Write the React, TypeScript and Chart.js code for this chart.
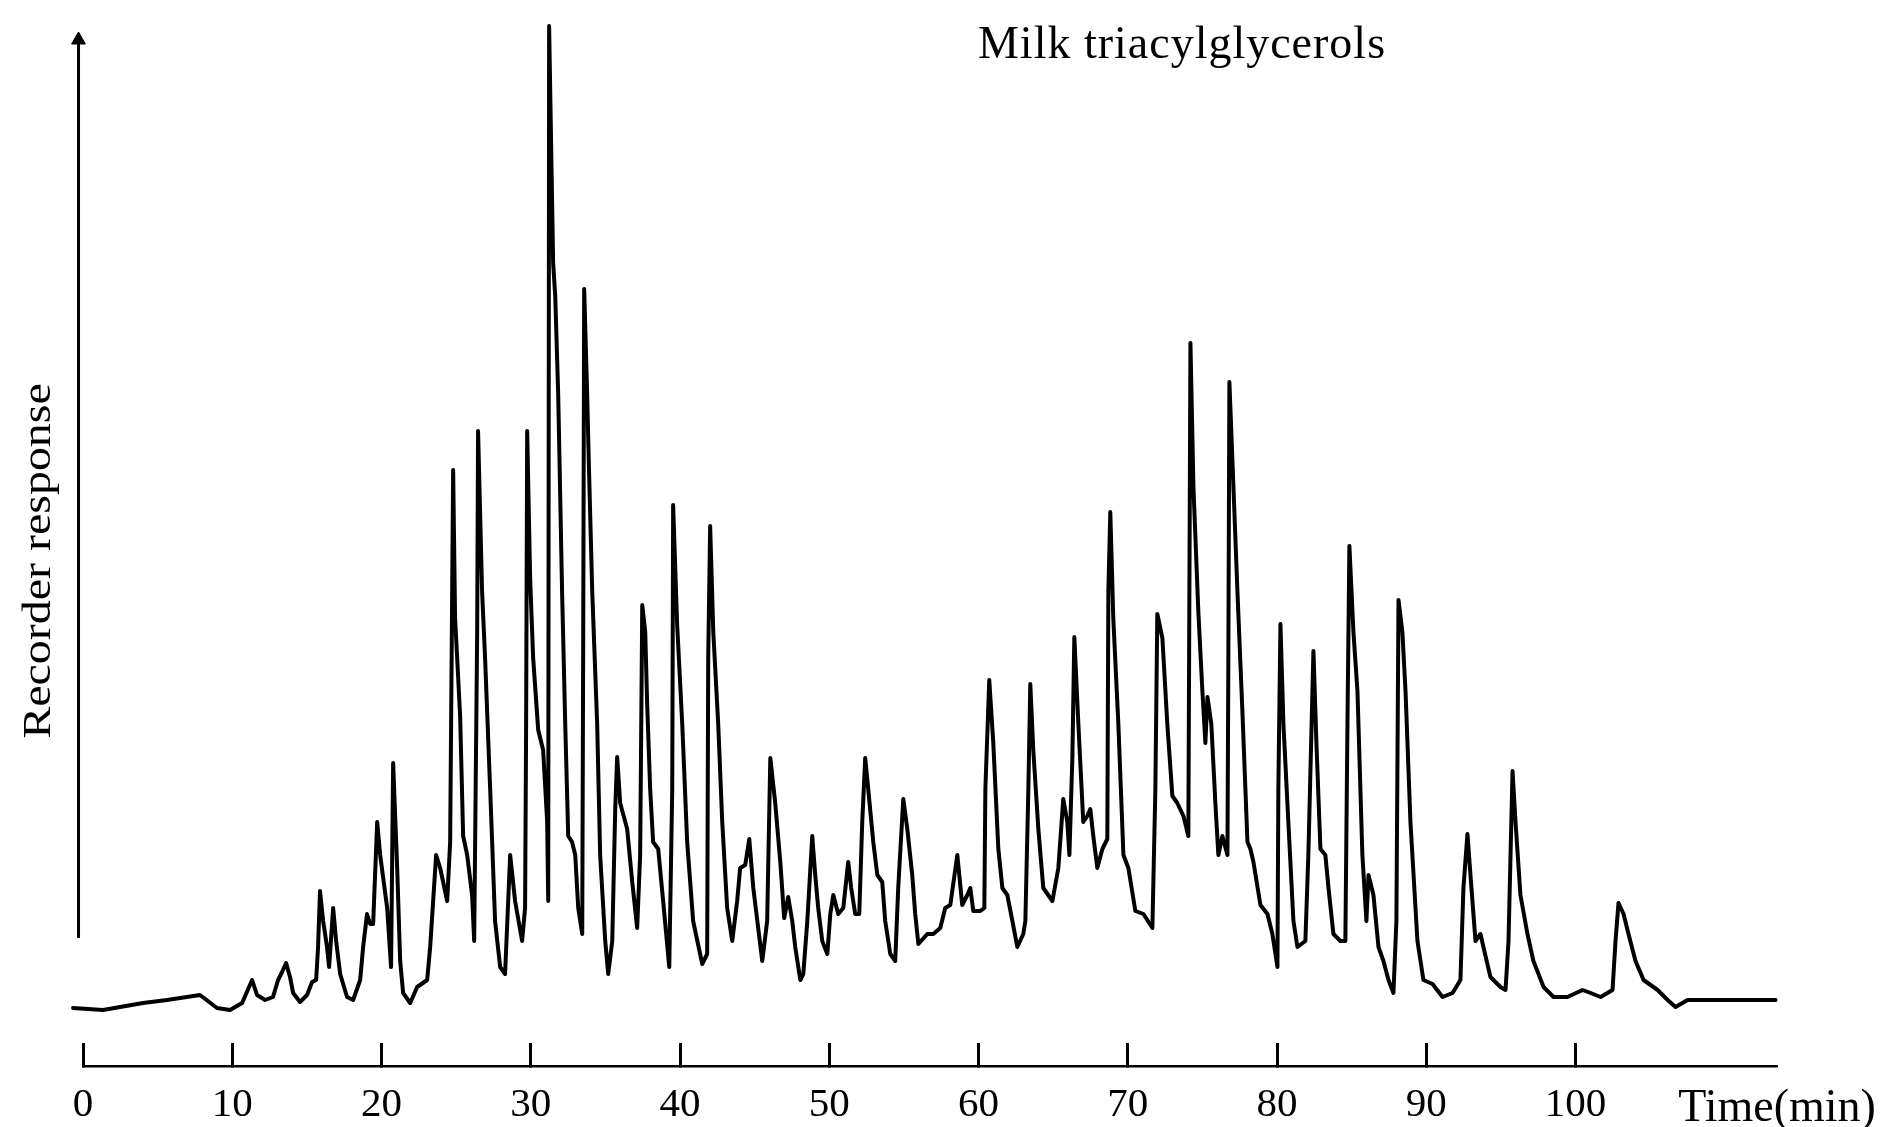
import { useEffect, useRef } from "react";
import { Chart, registerables } from "chart.js";

Chart.register(...registerables);

// Chromatogram trace: [time (min), recorder response (arbitrary units)]
const TRACE_0_20: [number, number][] = [
  [-0.67, 58], [1.34, 56], [4.02, 63], [5.63, 66], [7.84, 71], [8.98, 58], [9.85, 56], [10.66, 63],
  [11.33, 86], [11.66, 71], [12.2, 66], [12.73, 69], [13.07, 86], [13.34, 94], [13.61, 103], [13.87, 89],
  [14.08, 73], [14.54, 64], [15.01, 71], [15.35, 84], [15.62, 86], [15.75, 119], [15.88, 175], [16.09, 145],
  [16.35, 119], [16.49, 99], [16.76, 158], [16.96, 125], [17.23, 92], [17.69, 69], [18.1, 66], [18.57, 86],
  [18.77, 119], [19.03, 152], [19.24, 142], [19.44, 142], [19.71, 244], [19.91, 211],
];

const TRACE_20_40: [number, number][] = [
  [20.38, 158], [20.64, 99], [20.78, 303], [21.05, 198], [21.25, 105], [21.45, 73], [21.92, 63], [22.39, 79],
  [23.06, 86], [23.26, 119], [23.66, 211], [23.93, 198], [24.4, 165], [24.6, 224], [24.8, 596], [24.93, 448],
  [25.07, 408], [25.27, 349], [25.47, 230], [25.74, 211], [26.07, 171], [26.21, 125], [26.41, 434], [26.47, 635],
  [26.74, 474], [26.94, 408], [27.28, 277], [27.61, 145], [27.95, 99], [28.28, 92], [28.62, 211], [28.95, 165],
  [29.42, 125], [29.62, 158], [29.69, 342], [29.76, 635], [29.96, 487], [30.16, 408], [30.5, 336], [30.83, 316],
  [31.1, 244], [31.17, 165], [31.23, 1040], [31.5, 803], [31.64, 770], [31.84, 671], [32.1, 474], [32.31, 342],
  [32.51, 230], [32.77, 224], [32.98, 211], [33.18, 158], [33.45, 132], [33.51, 408], [33.58, 777], [33.78, 671],
  [33.91, 592], [34.12, 474], [34.45, 342], [34.65, 211], [34.99, 125], [35.19, 92], [35.46, 125], [35.66, 257],
  [35.79, 309], [35.99, 263], [36.46, 237], [36.8, 184], [37.13, 138], [37.33, 211], [37.47, 461], [37.67, 434],
  [37.8, 362], [38.0, 277], [38.2, 224], [38.54, 217], [38.87, 165], [39.28, 99], [39.48, 277], [39.54, 561],
  [39.81, 441],
];

const TRACE_40_60: [number, number][] = [
  [40.15, 342], [40.48, 224], [40.88, 145], [41.49, 102], [41.82, 112], [41.89, 408], [42.02, 540], [42.23, 434],
  [42.56, 342], [42.83, 244], [43.16, 158], [43.5, 125], [43.83, 165], [44.03, 198], [44.37, 201], [44.64, 227],
  [44.91, 178], [45.51, 105], [45.84, 145], [46.05, 308], [46.38, 263], [46.72, 204], [46.98, 148], [47.25, 169],
  [47.52, 145], [47.72, 119], [48.06, 86], [48.26, 92], [48.53, 145], [48.86, 230], [49.06, 191], [49.26, 158],
  [49.53, 125], [49.87, 112], [50.07, 152], [50.27, 171], [50.6, 152], [50.94, 158], [51.27, 204], [51.47, 178],
  [51.74, 152], [52.01, 152], [52.21, 244], [52.41, 308], [52.61, 277], [52.95, 224], [53.22, 191], [53.55, 184],
  [53.75, 145], [54.09, 112], [54.42, 105], [54.62, 178], [54.96, 267], [55.23, 237], [55.56, 191], [55.76, 152],
  [55.97, 122], [56.57, 132], [56.97, 132], [57.44, 138], [57.77, 158], [58.11, 161], [58.58, 211], [58.91, 161],
  [59.25, 171], [59.45, 178], [59.65, 155],
];

const TRACE_60_80: [number, number][] = [
  [60.12, 155], [60.39, 158], [60.46, 277], [60.72, 386], [60.99, 323], [61.33, 217], [61.6, 178], [61.93, 171],
  [62.27, 145], [62.6, 119], [63.0, 132], [63.14, 145], [63.34, 277], [63.47, 382], [63.67, 316], [64.01, 237],
  [64.34, 178], [64.95, 165], [65.35, 198], [65.68, 267], [65.95, 244], [66.09, 211], [66.29, 309], [66.42, 429],
  [66.69, 342], [67.02, 244], [67.29, 250], [67.49, 257], [67.69, 230], [67.96, 198], [68.3, 217], [68.63, 227],
  [68.7, 474], [68.83, 554], [69.03, 448], [69.37, 342], [69.71, 211], [70.04, 198], [70.51, 155], [71.05, 152],
  [71.65, 138], [71.85, 277], [71.98, 452], [72.32, 428], [72.65, 342], [72.99, 270], [73.32, 263], [73.73, 250],
  [74.06, 230], [74.2, 723], [74.4, 579], [74.73, 454], [75.0, 375], [75.2, 323], [75.34, 369], [75.6, 342],
  [75.87, 263], [76.07, 211], [76.34, 230], [76.68, 211], [76.74, 408], [76.81, 684], [77.08, 579], [77.35, 474],
  [77.68, 355], [78.02, 224], [78.22, 217], [78.42, 204], [78.89, 161], [79.36, 152], [79.69, 132],
];

const TRACE_80_END: [number, number][] = [
  [80.03, 99], [80.09, 277], [80.23, 442], [80.43, 342], [80.76, 244], [81.1, 145], [81.37, 119], [81.9, 125],
  [82.1, 211], [82.44, 415], [82.64, 323], [82.91, 217], [83.24, 211], [83.45, 178], [83.78, 132], [84.25, 125],
  [84.58, 125], [84.72, 342], [84.85, 520], [85.12, 434], [85.39, 375], [85.72, 211], [85.99, 145], [86.13, 191],
  [86.46, 171], [86.8, 119], [87.13, 105], [87.47, 86], [87.8, 73], [88.0, 145], [88.14, 466], [88.4, 434],
  [88.61, 375], [88.94, 244], [89.41, 125], [89.81, 86], [90.42, 82], [91.09, 69], [91.76, 73], [92.29, 86],
  [92.49, 178], [92.76, 232], [92.96, 191], [93.3, 125], [93.63, 132], [93.83, 119], [94.3, 89], [94.97, 79],
  [95.31, 76], [95.51, 125], [95.78, 295], [95.98, 244], [96.31, 171], [96.78, 132], [97.18, 105], [97.86, 79],
  [98.53, 69], [99.46, 69], [100.47, 76], [101.01, 73], [101.68, 69], [102.48, 76], [102.68, 125], [102.88, 163],
  [103.22, 152], [103.55, 132], [104.02, 105], [104.56, 86], [105.5, 76], [106.17, 66], [106.7, 59], [107.51, 66],
  [110.59, 66], [113.4, 66],
];

// Axis definitions
const X_TICKS = [0, 10, 20, 30, 40, 50, 60, 70, 80, 90, 100];
const X_END = 113.5;
const X_END_LABEL = "Time(min)";
const Y_MAX = 1050;

// Vertical response arrow (time, response)
const ARROW_X = [-0.3, -0.3];
const ARROW_Y = [128, 1026];

const TITLE = "Milk triacylglycerols";
const Y_LABEL = "Recorder response";
const SERIF = '"Liberation Serif", "DejaVu Serif", serif';

const textPlugin = {
  id: "chromText",
  afterDraw(chart: any) {
    const ctx = chart.ctx as CanvasRenderingContext2D;
    ctx.save();
    ctx.fillStyle = "#000";
    ctx.font = `46px ${SERIF}`;
    (ctx as any).letterSpacing = "1px";
    ctx.textAlign = "center";
    ctx.textBaseline = "alphabetic";
    ctx.fillText(TITLE, 1182, 58);
    ctx.restore();

    ctx.save();
    ctx.fillStyle = "#000";
    ctx.font = `41px ${SERIF}`;
    (ctx as any).letterSpacing = "0px";
    ctx.textAlign = "center";
    ctx.textBaseline = "alphabetic";
    ctx.translate(50, 561);
    ctx.rotate(-Math.PI / 2);
    ctx.scale(1.17, 1);
    ctx.fillText(Y_LABEL, 0, 0);
    ctx.restore();
  },
};

export default function App() {
  const ref = useRef<HTMLCanvasElement>(null);

  useEffect(() => {
    const canvas = ref.current;
    if (!canvas) return;
    const trace = [...TRACE_0_20, ...TRACE_20_40, ...TRACE_40_60, ...TRACE_60_80, ...TRACE_80_END].map(
      ([x, y]) => ({ x, y })
    );
    const arrow = ARROW_X.map((x, i) => ({ x, y: ARROW_Y[i] }));

    const chart = new Chart(canvas, {
      type: "line",
      data: {
        datasets: [
          {
            data: trace,
            borderColor: "#000",
            borderWidth: 4,
            pointRadius: 0,
            tension: 0,
            borderJoinStyle: "round",
            borderCapStyle: "round",
            clip: false as any,
          },
          {
            data: arrow,
            borderColor: "#000",
            borderWidth: 3,
            pointRadius: [0, 8],
            pointStyle: "triangle",
            pointBackgroundColor: "#000",
            pointBorderColor: "#000",
            pointBorderWidth: 1,
            tension: 0,
            clip: false as any,
          },
        ],
      },
      options: {
        responsive: false,
        animation: false,
        events: [],
        layout: { padding: { left: 83, right: 114, top: 16, bottom: 0 } },
        plugins: {
          legend: { display: false },
          tooltip: { enabled: false },
          title: { display: false },
        },
        scales: {
          x: {
            type: "linear",
            min: 0,
            max: X_END,
            afterBuildTicks: (scale: any) => {
              scale.ticks = [...X_TICKS, X_END].map((v) => ({ value: v }));
            },
            afterFit: (scale: any) => {
              scale.height = 61;
              scale.paddingLeft = 0;
              scale.paddingRight = 0;
            },
            grid: {
              drawOnChartArea: false,
              drawTicks: true,
              tickLength: -23,
              tickWidth: 3,
              tickColor: (c: any) => (c.tick && c.tick.value > 100 ? "rgba(0,0,0,0)" : "#000"),
            },
            border: { display: true, color: "#000", width: 2.5 },
            ticks: {
              color: "#000",
              padding: 38,
              autoSkip: false,
              maxRotation: 0,
              minRotation: 0,
              font: (c: any) =>
                c.tick && c.tick.value > 100
                  ? { family: SERIF, size: 46 }
                  : { family: SERIF, size: 41 },
              callback: (v: any) => (Number(v) > 100 ? X_END_LABEL : String(v)),
            },
          },
          y: {
            type: "linear",
            min: 0,
            max: Y_MAX,
            display: false,
          },
        },
      },
      plugins: [textPlugin],
    } as any);

    return () => chart.destroy();
  }, []);

  return (
    <div style={{ position: "fixed", left: 0, top: 0, width: 1891, height: 1127, background: "#fff" }}>
      <canvas ref={ref} width={1891} height={1127} style={{ display: "block", width: 1891, height: 1127 }} />
    </div>
  );
}
